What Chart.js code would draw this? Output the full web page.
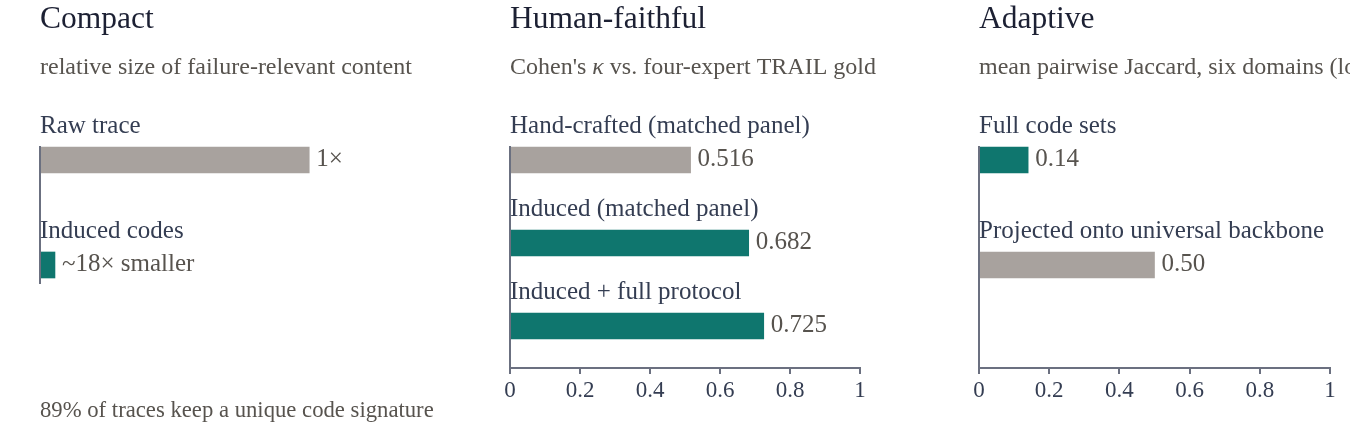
<!DOCTYPE html>
<html>
<head>
<meta charset="utf-8">
<script src="https://cdn.jsdelivr.net/npm/chart.js@4.4.0/dist/chart.umd.min.js"></script>
<style>
  html, body { margin: 0; padding: 0; background: #fff; }
  #wrap { position: relative; width: 1350px; height: 435px; overflow: hidden; }
  canvas { position: absolute; top: 0; }
</style>
</head>
<body>
<div id="wrap">
  <canvas id="compact" width="470" height="435" style="left:0px"></canvas>
  <canvas id="faithful" width="470" height="435" style="left:470px"></canvas>
  <canvas id="adaptive" width="410" height="435" style="left:940px"></canvas>
</div>
<script>
// ===== DATA =====
const compactLabels = ['Raw trace', 'Induced codes'];
const compactValues = [1, 0.0556];
const compactValueText = ['1×', '~18× smaller'];

const kappaLabels = ['Hand-crafted (matched panel)', 'Induced (matched panel)', 'Induced + full protocol'];
const kappaValues = [0.516, 0.682, 0.725];

const jaccardLabels = ['Full code sets', 'Projected onto universal backbone'];
const jaccardValues = [0.14, 0.50];

const xTicks = [0, 0.2, 0.4, 0.6, 0.8, 1];

const GRAY = '#a8a29e';
const TEAL = '#0f766e';
const AXIS = '#6b7080';
const TITLE_COLOR = '#1c2033';
const LABEL_COLOR = '#343d52';
const MUTED = '#57534e';
const FONT = '"Liberation Serif", "Times New Roman", serif';

const Panels = {

    charts: [],

    init() {
        this.charts.push(this.createPanel('compact', {
            title: 'Compact',
            subtitle: [{ text: 'relative size of failure-relevant content' }],
            labels: compactLabels,
            values: compactValues,
            colors: [GRAY, TEAL],
            valueText: compactValueText,
            xMax: 1.3,
            showX: false,
            yMin: -0.1333,
            yMax: 1.181,
            padding: { top: 146, bottom: 151, left: 40, right: 80 },
            footnote: '89% of traces keep a unique code signature'
        }));

        this.charts.push(this.createPanel('faithful', {
            title: 'Human-faithful',
            subtitle: [
                { text: "Cohen's " },
                { text: 'κ', italic: true },
                { text: ' vs. four-expert TRAIL gold' }
            ],
            labels: kappaLabels,
            values: kappaValues,
            colors: [GRAY, TEAL, TEAL],
            valueText: kappaValues.map(v => v.toFixed(3)),
            xMax: 1,
            showX: true,
            yMin: -0.1687,
            yMax: 2.506,
            padding: { top: 146, bottom: 27, left: 40, right: 80 }
        }));

        this.charts.push(this.createPanel('adaptive', {
            title: 'Adaptive',
            subtitle: [{ text: 'mean pairwise Jaccard, six domains (lower = more domain-specific)' }],
            labels: jaccardLabels,
            values: jaccardValues,
            colors: [TEAL, GRAY],
            valueText: jaccardValues.map(v => v.toFixed(2)),
            xMax: 1,
            showX: true,
            yMin: -0.1333,
            yMax: 1.981,
            padding: { top: 146, bottom: 27, left: 39, right: 20 }
        }));
    },

    // ===== text helper (italic kappa) =====
    drawRich(ctx, parts, x, y, size, color) {
        ctx.fillStyle = color;
        ctx.textBaseline = 'alphabetic';
        ctx.textAlign = 'left';
        parts.forEach(p => {
            ctx.font = (p.italic ? 'italic ' : '') + size + 'px ' + FONT;
            ctx.fillText(p.text, x, y);
            x += ctx.measureText(p.text).width;
        });
    },

    // ===== one panel =====
    createPanel(id, cfg) {
        const canvas = document.getElementById(id);
        const self = this;

        const textPlugin = {
            id: 'panelText',
            afterDatasetsDraw(chart) {
                const ctx = chart.ctx;
                const area = chart.chartArea;
                const meta = chart.getDatasetMeta(0);

                ctx.save();

                // left axis line
                ctx.strokeStyle = AXIS;
                ctx.lineWidth = 2;
                ctx.beginPath();
                ctx.moveTo(area.left, area.top);
                ctx.lineTo(area.left, area.bottom);
                ctx.stroke();

                // title + subtitle
                self.drawRich(ctx, [{ text: cfg.title }], area.left, 28, 31.5, TITLE_COLOR);
                self.drawRich(ctx, cfg.subtitle, area.left, 74, 24, MUTED);

                // category labels above bars, values to the right
                meta.data.forEach((bar, i) => {
                    const top = bar.y - bar.height / 2;
                    self.drawRich(ctx, [{ text: cfg.labels[i] }], area.left, top - 14, 25, LABEL_COLOR);
                    self.drawRich(ctx, [{ text: cfg.valueText[i] }], bar.x + 7, bar.y + 6, 25, MUTED);
                });

                if (cfg.footnote) {
                    self.drawRich(ctx, [{ text: cfg.footnote }], area.left, 417, 22.7, MUTED);
                }
                ctx.restore();
            }
        };

        return new Chart(canvas, {
            type: 'bar',
            data: {
                datasets: [{
                    data: cfg.values.map((v, i) => ({ x: v, y: i })),
                    backgroundColor: cfg.colors,
                    borderWidth: 0,
                    barThickness: 26
                }]
            },
            options: {
                indexAxis: 'y',
                responsive: false,
                animation: false,
                layout: { padding: cfg.padding },
                plugins: {
                    legend: { display: false },
                    tooltip: { enabled: false }
                },
                scales: {
                    y: {
                        type: 'linear',
                        reverse: true,
                        offset: false,
                        min: cfg.yMin,
                        max: cfg.yMax,
                        display: false
                    },
                    x: {
                        type: 'linear',
                        min: 0,
                        max: cfg.xMax,
                        display: cfg.showX,
                        afterBuildTicks(scale) {
                            scale.ticks = xTicks.map(v => ({ value: v }));
                        },
                        afterFit(scale) {
                            if (cfg.showX) scale.height = 40;
                        },
                        grid: {
                            drawOnChartArea: false,
                            drawTicks: true,
                            tickLength: 6,
                            lineWidth: 2,
                            color: AXIS
                        },
                        border: { display: true, color: AXIS, width: 2 },
                        ticks: {
                            padding: 3,
                            color: LABEL_COLOR,
                            font: { family: FONT, size: 23 },
                            callback: v => String(v)
                        }
                    }
                }
            },
            plugins: [textPlugin]
        });
    }
};

Panels.init();
</script>
</body>
</html>
